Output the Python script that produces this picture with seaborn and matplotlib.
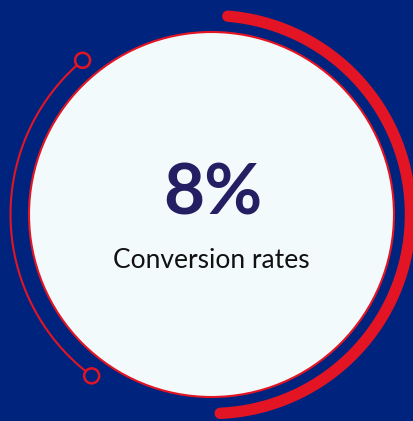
import numpy as np
import matplotlib
matplotlib.use("Agg")
import matplotlib.pyplot as plt
from matplotlib.patches import Circle
import seaborn as sns

# ---- data ----
value_label = ["8%"]
metric_label = ["Conversion rates"]
thick_arc_deg = [85.3, -87.5]      # start, end (degrees, counter-clockwise from +x)
thin_arc_deg = [129.9, 233.4]      # start, end
radii = [182.5, 199.0, 201.0]      # inner disc, thick arc, thin arc

sns.set_style("white")
plt.rcParams['font.family'] = ['Lato', 'DejaVu Sans']

BG = "#00247D"
RED = "#E31423"
DISC = "#F2FAFC"
INK = "#241F63"

W, H = 414, 421
fig = plt.figure(figsize=(W / 100, H / 100), dpi=100)
fig.patch.set_facecolor(BG)
ax = fig.add_axes([0, 0, 1, 1])
ax.set_facecolor(BG)
ax.set_xlim(0, W)
ax.set_ylim(H, 0)
ax.set_aspect("equal")
ax.axis("off")

cx, cy = 211.5, 214.5

# inner disc
ax.add_patch(Circle((cx, cy), radii[0], facecolor=DISC, edgecolor=RED, lw=1.5, zorder=2))

# thick arc (right)
t = np.radians(np.linspace(thick_arc_deg[0], thick_arc_deg[1], 300))
ax.plot(cx + radii[1] * np.cos(t), cy - radii[1] * np.sin(t), color=RED, lw=8.2,
        solid_capstyle="round", zorder=3)

# thin arc (left) with end rings
ring_r = 7.5
da = np.degrees(ring_r / radii[2])
t2 = np.radians(np.linspace(thin_arc_deg[0] + da, thin_arc_deg[1] - da, 300))
ax.plot(cx + radii[2] * np.cos(t2), cy - radii[2] * np.sin(t2), color=RED, lw=1.5, zorder=3)
for a in thin_arc_deg:
    ar = np.radians(a)
    ax.add_patch(Circle((cx + radii[2] * np.cos(ar), cy - radii[2] * np.sin(ar)), ring_r,
                        facecolor="none", edgecolor=RED, lw=1.8, zorder=4))

ax.text(cx + 1, 194, value_label[0], ha="center", va="center", fontsize=51,
        fontweight="bold", color=INK, zorder=5)
ax.text(cx, 260, metric_label[0], ha="center", va="center", fontsize=19,
        color="#111111", zorder=5)

fig.savefig("out.png", dpi=100, facecolor=BG)
